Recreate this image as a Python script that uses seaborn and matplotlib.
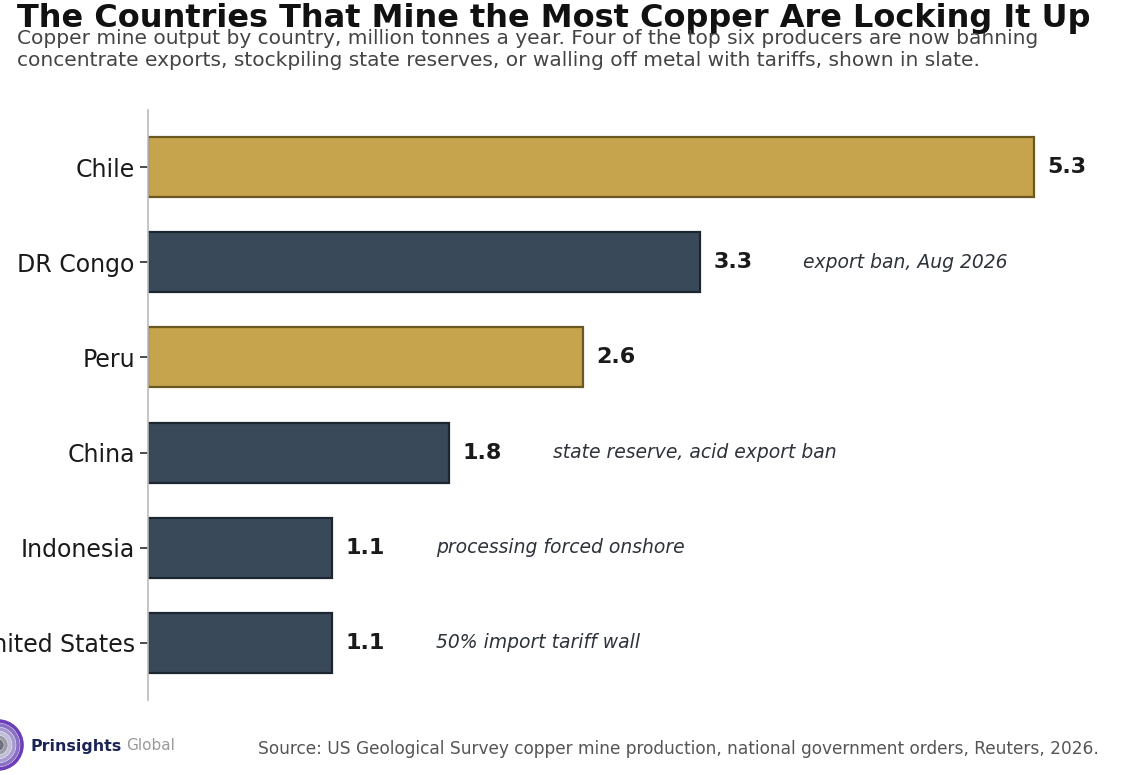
import numpy as np
import matplotlib
matplotlib.use("Agg")
import matplotlib.pyplot as plt
import seaborn as sns
from matplotlib.patches import Circle

countries = ["Chile", "DR Congo", "Peru", "China", "Indonesia", "United States"]
output_mt = [5.3, 3.3, 2.6, 1.8, 1.1, 1.1]
value_labels = ["5.3", "3.3", "2.6", "1.8", "1.1", "1.1"]
notes = ["", "export ban, Aug 2026", "", "state reserve, acid export ban",
         "processing forced onshore", "50% import tariff wall"]
locking = [False, True, False, True, True, True]
subtitle_lines = [
    "Copper mine output by country, million tonnes a year. Four of the top six producers are now banning",
    "concentrate exports, stockpiling state reserves, or walling off metal with tariffs, shown in slate.",
]

GOLD, GOLD_EDGE = "#C5A44D", "#6B5820"
SLATE, SLATE_EDGE = "#3A4959", "#1C2631"

sns.set_theme(style="white")
plt.rcParams["font.family"] = ["DejaVu Sans"]

W, H = 1123, 775
fig = plt.figure(figsize=(W / 100, H / 100), dpi=100)
ax = fig.add_axes([148 / W, 75 / H, (1110 - 148) / W, 590 / H])

palette = {c: (SLATE if l else GOLD) for c, l in zip(countries, locking)}
sns.barplot(x=output_mt, y=countries, hue=countries, palette=palette, orient="h",
            width=0.63, legend=False, ax=ax, saturation=1)
for patch, l in zip(ax.patches, locking):
    patch.set_edgecolor(SLATE_EDGE if l else GOLD_EDGE)
    patch.set_linewidth(1.6)

for i, (v, lab, note) in enumerate(zip(output_mt, value_labels, notes)):
    ax.text(v + 0.08, i, lab, va="center", ha="left", fontsize=16,
            fontweight="bold", color="#1a1a1a")
    if note:
        ax.text(v + 0.62, i, note, va="center", ha="left", fontsize=13.5,
                style="italic", color="#2e333a")

ax.set_xlim(0, (1110 - 148) / 167.2)
ax.set_ylim(5.6, -0.6)
ax.set_xticks([])
ax.set_xlabel("")
ax.set_ylabel("")
ax.tick_params(axis="y", labelsize=17, colors="#1a1a1a", length=5.5, width=1.1,
               left=True, pad=4)
for s in ["top", "right", "bottom"]:
    ax.spines[s].set_visible(False)
ax.spines["left"].set_color("#bbbbbb")
ax.spines["left"].set_linewidth(1.2)

fig.text(17 / W, 1 - 27 / H, "The Countries That Mine the Most Copper Are Locking It Up",
         fontsize=23, fontweight="bold", color="#111111", va="baseline", ha="left")
for k, line in enumerate(subtitle_lines):
    fig.text(17 / W, 1 - (44 + 22 * k) / H, line, fontsize=14.5, color="#444444",
             va="baseline", ha="left")
fig.text(1099 / W, 1 - 754 / H,
         "Source: US Geological Survey copper mine production, national government orders, Reuters, 2026.",
         fontsize=12.25, color="#555555", ha="right", va="baseline")

# logo
lax = fig.add_axes([0, 0, 60 / W, 60 / H])
lax.set_xlim(0, 60)
lax.set_ylim(0, 60)
lax.axis("off")
ring_colors = ["#6b3fb8", "#8a6fc4", "#a79ad0", "#c2bdd8", "#9a9aa8", "#6e6e7e"]
for r, c in zip([24, 20, 16, 12, 8, 4], ring_colors):
    lax.add_patch(Circle((-2, 30), r, facecolor="white", edgecolor=c, linewidth=2.6))
fig.text(31 / W, 1 - 746 / H, "Prinsights", fontsize=11.4, fontweight="bold",
         color="#1b2456", va="center", ha="left")
fig.text(126 / W, 1 - 746 / H, "Global", fontsize=11, color="#9a9a9a",
         va="center", ha="left")

fig.savefig("out.png", dpi=100)
